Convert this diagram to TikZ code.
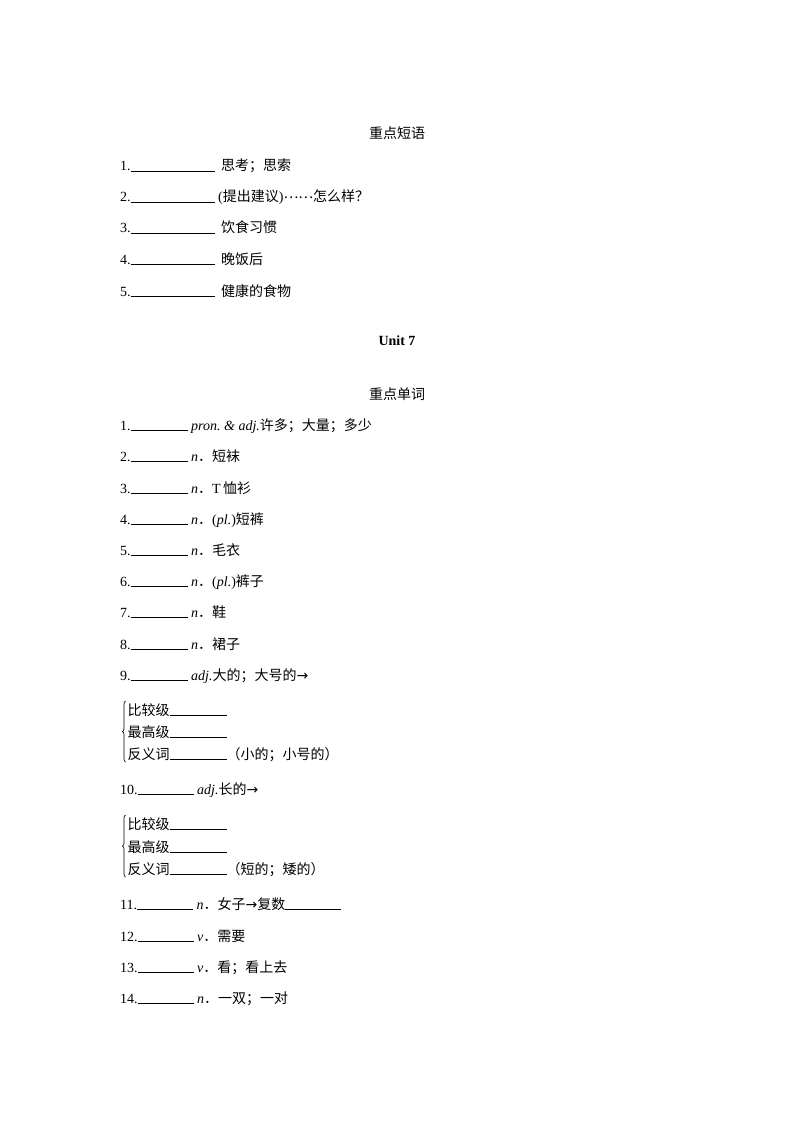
\documentclass[tikz,border=0pt]{standalone}
\usepackage{fontspec}
\setmainfont{Liberation Serif}
\newfontfamily\cjk{Noto Sans CJK SC}
\newfontfamily\symf{DejaVu Sans}
\usetikzlibrary{decorations.pathreplacing}
\newcommand\zh[1]{{\cjk #1}}
\newcommand\myblank[1]{\rule[-0.7pt]{#1}{0.9pt}}
\newcommand\arr{{\symf\fontsize{14}{14}\selectfont →}}
\tikzset{
  txt/.style={anchor=base west, inner sep=0pt, font=\fontsize{14}{16}\selectfont},
  head/.style={anchor=base, inner sep=0pt, font=\fontsize{14}{16}\selectfont},
  bracepath/.style={decorate, decoration={brace, amplitude=3pt}, line width=0.7pt}
}
\begin{document}
\begin{tikzpicture}[x=1pt,y=-1pt]
\useasboundingbox[fill=white] (0,0) rectangle (794,1123);
% Key phrases
\node[head] (h1) at (397,139) {\zh{重点短语}};
\node[txt] (p1) at (120,171) {1.\myblank{84pt}\hspace{6.5pt}\zh{思考；思索}};
\node[txt] (p2) at (120,202) {2.\myblank{84pt} (\zh{提出建议})\raisebox{3.5pt}{\zh{……}}\zh{怎么样？}};
\node[txt] (p3) at (120,233) {3.\myblank{84pt}\hspace{6.5pt}\zh{饮食习惯}};
\node[txt] (p4) at (120,264) {4.\myblank{84pt}\hspace{6.5pt}\zh{晚饭后}};
\node[txt] (p5) at (120,296) {5.\myblank{84pt}\hspace{6.5pt}\zh{健康的食物}};
% Unit 7
\node[head,font=\fontsize{14}{16}\selectfont\bfseries] (u7) at (397,345) {Unit 7};
\node[head] (h2) at (397,399) {\zh{重点单词}};
\node[txt] (w1) at (120,430) {1.\myblank{57pt} \textit{pron.\ \& adj.}\zh{许多；大量；多少}};
\node[txt] (w2) at (120,461) {2.\myblank{57pt} \textit{n}\zh{．短袜}};
\node[txt] (w3) at (120,493) {3.\myblank{57pt} \textit{n}\zh{．}T\,\zh{恤衫}};
\node[txt] (w4) at (120,524) {4.\myblank{57pt} \textit{n}\zh{．}(\textit{pl.})\zh{短裤}};
\node[txt] (w5) at (120,555) {5.\myblank{57pt} \textit{n}\zh{．毛衣}};
\node[txt] (w6) at (120,586) {6.\myblank{57pt} \textit{n}\zh{．}(\textit{pl.})\zh{裤子}};
\node[txt] (w7) at (120,617) {7.\myblank{57pt} \textit{n}\zh{．鞋}};
\node[txt] (w8) at (120,649) {8.\myblank{57pt} \textit{n}\zh{．裙子}};
\node[txt] (w9) at (120,680) {9.\myblank{57pt} \textit{adj.}\zh{大的；大号的}\arr};
% group 1
\node[txt] (g1a) at (127.5,715) {\zh{比较级}\myblank{57pt}};
\node[txt] (g1b) at (127.5,737) {\zh{最高级}\myblank{57pt}};
\node[txt] (g1c) at (127.5,759) {\zh{反义词}\myblank{57pt}\zh{（小的；小号的）}};
\coordinate (b1b) at (125.5,762);
\coordinate (b1t) at (125.5,701);
\draw[bracepath] (b1b) -- (b1t);
\node[txt] (w10) at (120,794) {10.\myblank{56pt} \textit{adj.}\zh{长的}\arr};
% group 2
\node[txt] (g2a) at (127.5,829) {\zh{比较级}\myblank{57pt}};
\node[txt] (g2b) at (127.5,852) {\zh{最高级}\myblank{57pt}};
\node[txt] (g2c) at (127.5,874) {\zh{反义词}\myblank{57pt}\zh{（短的；矮的）}};
\coordinate (b2b) at (125.5,877);
\coordinate (b2t) at (125.5,815);
\draw[bracepath] (b2b) -- (b2t);
\node[txt] (w11) at (120,909) {11.\myblank{56pt} \textit{n}\zh{．女子}\arr\zh{复数}\myblank{56pt}};
\node[txt] (w12) at (120,941) {12.\myblank{56pt} \textit{v}\zh{．需要}};
\node[txt] (w13) at (120,972) {13.\myblank{56pt} \textit{v}\zh{．看；看上去}};
\node[txt] (w14) at (120,1003) {14.\myblank{56pt} \textit{n}\zh{．一双；一对}};
\end{tikzpicture}
\end{document}
